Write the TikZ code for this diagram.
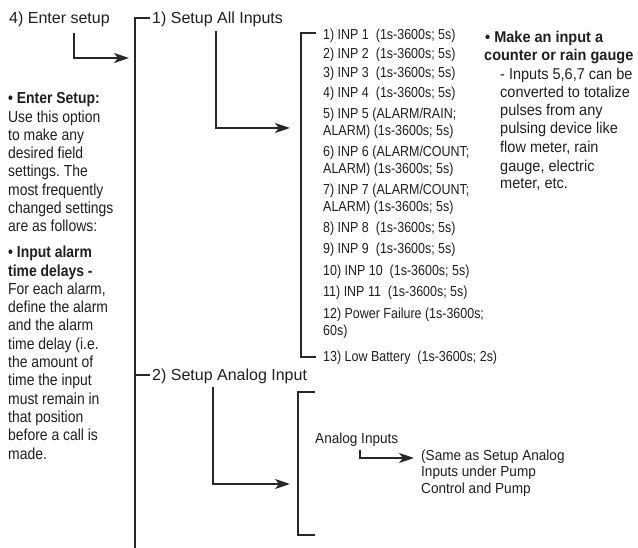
\documentclass[tikz,border=0pt]{standalone}
\usepackage{fontspec}
\setmainfont{Liberation Sans}
\newfontfamily\notefont[FakeStretch=0.87]{Liberation Sans}
\newfontfamily\itemfont[FakeStretch=0.86]{Liberation Sans}
\newfontfamily\sidefont[FakeStretch=0.93]{Liberation Sans}
\usetikzlibrary{arrows.meta}
\definecolor{ink}{RGB}{30,30,35}
\definecolor{lineink}{RGB}{40,40,40}
\frenchspacing
\tikzset{
  hd/.style={anchor=base west, inner sep=0pt, text=ink, font=\fontsize{16}{18}\selectfont},
  note/.style={anchor=base west, inner sep=0pt, text=ink, font=\notefont\fontsize{16}{18}\selectfont},
  itm/.style={anchor=base west, inner sep=0pt, text=ink, font=\itemfont\fontsize{14.5}{16}\selectfont},
  side/.style={anchor=base west, inner sep=0pt, text=ink, font=\sidefont\fontsize{15.6}{18}\selectfont},
  ana/.style={anchor=base west, inner sep=0pt, text=ink, font=\sidefont\fontsize{14.6}{16}\selectfont},
  wire/.style={draw=lineink, line width=1.5pt},
  arr/.style={wire, -{Stealth[length=15pt,width=10pt,inset=4pt]}}
}
\begin{document}
\begin{tikzpicture}[x=1pt,y=-1pt]
\useasboundingbox (0,0) rectangle (638,548);

% headings
\node[hd] (enter) at (9,23.8) {4) Enter setup};
\node[hd] (h1) at (152,23.8) {1) Setup All Inputs};
\node[hd] (h2) at (152,380.8) {2) Setup Analog Input};

% left notes
\node[note] (n1) at (8,103.8) {\textbf{• Enter Setup:}};
\node[note] (n2) at (8,122.1) {Use this option};
\node[note] (n3) at (8,140.4) {to make any};
\node[note] (n4) at (8,158.7) {desired field};
\node[note] (n5) at (8,177.0) {settings. The};
\node[note] (n6) at (8,195.3) {most frequently};
\node[note] (n7) at (8,213.6) {changed settings};
\node[note] (n8) at (8,231.9) {are as follows:};
\node[note] (m1) at (8,257.8) {\textbf{• Input alarm}};
\node[note] (m2) at (8,276.1) {\textbf{time delays -}};
\node[note] (m3) at (8,294.4) {For each alarm,};
\node[note] (m4) at (8,312.7) {define the alarm};
\node[note] (m5) at (8,331.0) {and the alarm};
\node[note] (m6) at (8,349.3) {time delay (i.e.};
\node[note] (m7) at (8,367.6) {the amount of};
\node[note] (m8) at (8,385.9) {time the input};
\node[note] (m9) at (8,404.2) {must remain in};
\node[note] (m10) at (8,422.5) {that position};
\node[note] (m11) at (8,440.8) {before a call is};
\node[note] (m12) at (8,459.1) {made.};

% input items
\node[itm] (i1) at (323,39.2) {1) INP 1~ (1s-3600s; 5s)};
\node[itm] (i2) at (323,58.2) {2) INP 2~ (1s-3600s; 5s)};
\node[itm] (i3) at (323,77.2) {3) INP 3~ (1s-3600s; 5s)};
\node[itm] (i4) at (323,97.2) {4) INP 4~ (1s-3600s; 5s)};
\node[itm] (i5) at (323,118.2) {5) INP 5 (ALARM/RAIN;};
\node[itm] (i5b) at (323,135.2) {ALARM) (1s-3600s; 5s)};
\node[itm] (i6) at (323,156.2) {6) INP 6 (ALARM/COUNT;};
\node[itm] (i6b) at (323,173.2) {ALARM) (1s-3600s; 5s)};
\node[itm] (i7) at (323,194.2) {7) INP 7 (ALARM/COUNT;};
\node[itm] (i7b) at (323,211.2) {ALARM) (1s-3600s; 5s)};
\node[itm] (i8) at (323,232.2) {8) INP 8~ (1s-3600s; 5s)};
\node[itm] (i9) at (323,253.2) {9) INP 9~ (1s-3600s; 5s)};
\node[itm] (i10) at (323,275.2) {10) INP 10~ (1s-3600s; 5s)};
\node[itm] (i11) at (323,296.2) {11) INP 11~ (1s-3600s; 5s)};
\node[itm] (i12) at (323,318.2) {12) Power Failure (1s-3600s;};
\node[itm] (i12b) at (323,335.2) {60s)};
\node[itm] (i13) at (323,361.2) {13) Low Battery~ (1s-3600s; 2s)};

% right note
\node[side] (r1) at (485,42.6) {\textbf{• Make an input a}};
\node[side] (r2) at (484,60.6) {\textbf{counter or rain gauge}};
\node[side] (r3) at (500,79.6) {- Inputs 5,6,7 can be};
\node[side] (r4) at (500,97.6) {converted to totalize};
\node[side] (r5) at (500,115.6) {pulses from any};
\node[side] (r6) at (500,133.6) {pulsing device like};
\node[side] (r7) at (500,152.6) {flow meter, rain};
\node[side] (r8) at (500,171.6) {gauge, electric};
\node[side] (r9) at (500,188.6) {meter, etc.};

% analog
\node[ana] (ai) at (315,443.2) {Analog Inputs};
\node[ana] (s1) at (421,460.2) {(Same as Setup Analog};
\node[ana] (s2) at (421,476.7) {Inputs under Pump};
\node[ana] (s3) at (421,493.2) {Control and Pump};

% connector points
\coordinate (e0) at (74,33);
\coordinate (e1) at (129,58);
\coordinate (b1a) at (150,18);
\coordinate (b1b) at (135,548);
\coordinate (b1t) at (150,375);
\coordinate (a0) at (216,31);
\coordinate (a1) at (290,128);
\coordinate (b2a) at (316,33);
\coordinate (b2b) at (316,357);
\coordinate (c0) at (213,387);
\coordinate (c1) at (290,484);
\coordinate (b3a) at (315,392);
\coordinate (b3b) at (315,535);
\coordinate (d0) at (360,450);
\coordinate (d1) at (414,458);

% brackets
\draw[wire] (b1a) -| (b1b);
\draw[wire] (b1b |- b1t) -- (b1t);
\draw[wire] (b2a) -- ++(-15,0) |- (b2b);
\draw[wire] (b3a) -- ++(-17,0) |- (b3b);

% arrows
\draw[arr] (e0) |- (e1);
\draw[arr] (a0) |- (a1);
\draw[arr] (c0) |- (c1);
\draw[arr] (d0) |- (d1);
\end{tikzpicture}
\end{document}
